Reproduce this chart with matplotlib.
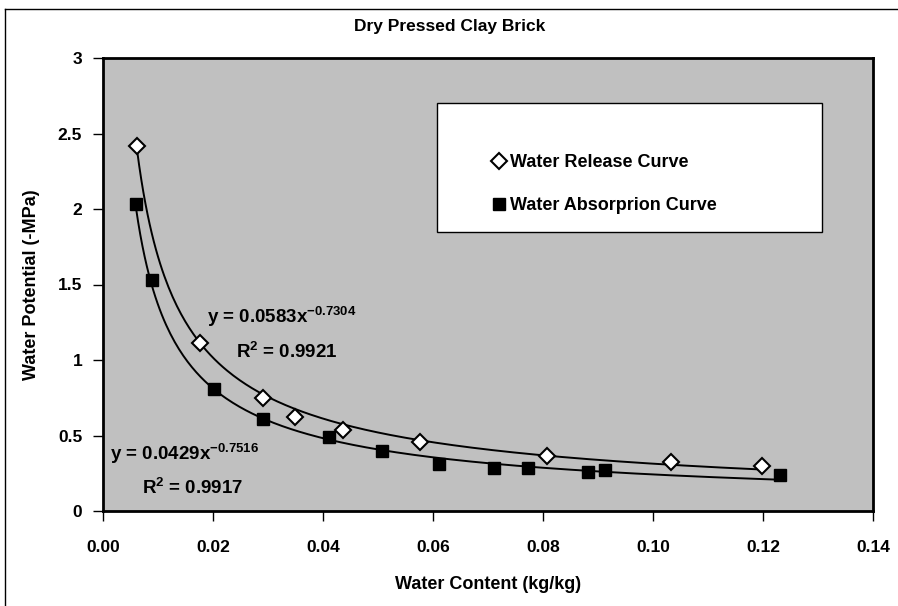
import numpy as np
import matplotlib
matplotlib.use("Agg")
import matplotlib.pyplot as plt
from matplotlib.lines import Line2D
from matplotlib.patches import Rectangle

plt.rcParams['font.family'] = ['Liberation Sans', 'DejaVu Sans']
plt.rcParams['font.weight'] = 'bold'
plt.rcParams['mathtext.fontset'] = 'custom'
plt.rcParams['mathtext.rm'] = 'Liberation Sans:bold'
plt.rcParams['mathtext.bf'] = 'Liberation Sans:bold'
plt.rcParams['mathtext.it'] = 'Liberation Sans:bold'
plt.rcParams['mathtext.default'] = 'bf'

# Data
release_x = [0.0062, 0.0176, 0.0290, 0.0349, 0.0437, 0.0576, 0.0807, 0.1032, 0.1199]
release_y = [2.42, 1.11, 0.746, 0.62, 0.536, 0.459, 0.364, 0.322, 0.300]
absorb_x = [0.0060, 0.0089, 0.0202, 0.0290, 0.0410, 0.0508, 0.0611, 0.0711, 0.0772, 0.0881, 0.0912, 0.1230]
absorb_y = [2.03, 1.53, 0.808, 0.609, 0.488, 0.400, 0.311, 0.287, 0.287, 0.260, 0.272, 0.236]

# Power-law trendline coefficients (from the chart labels)
release_a, release_b = 0.0583, -0.7304
absorb_a, absorb_b = 0.0429, -0.7516

x_ticks = [0.00, 0.02, 0.04, 0.06, 0.08, 0.10, 0.12, 0.14]
y_ticks = [0, 0.5, 1, 1.5, 2, 2.5, 3]
y_tick_labels = ['0', '0.5', '1', '1.5', '2', '2.5', '3']

W, H = 898, 606
fig = plt.figure(figsize=(W / 100, H / 100), dpi=100)
fig.patch.set_facecolor('white')

ax = fig.add_axes([103 / W, 1 - 511 / H, 770 / W, 453 / H])
ax.set_facecolor('#C0C0C0')

# trendlines
xr = np.linspace(min(release_x), max(release_x), 300)
ax.plot(xr, release_a * xr ** release_b, color='black', lw=1.4, zorder=2)
xa = np.linspace(min(absorb_x), max(absorb_x), 300)
ax.plot(xa, absorb_a * xa ** absorb_b, color='black', lw=1.4, zorder=2)

# markers
h1, = ax.plot(release_x, release_y, linestyle='none', marker='D', ms=8, mfc='white',
              mec='black', mew=1.5, zorder=3)
h2, = ax.plot(absorb_x, absorb_y, linestyle='none', marker='s', ms=8.5, mfc='black',
              mec='black', mew=1, zorder=3)

ax.set_xlim(0, 0.14)
ax.set_ylim(0, 3)
ax.set_xticks(x_ticks)
ax.set_xticklabels([f'{v:.2f}' for v in x_ticks])
ax.set_yticks(y_ticks)
ax.set_yticklabels(y_tick_labels)
ax.tick_params(axis='both', direction='out', length=7, width=1, labelsize=12.5, color='black')
ax.tick_params(axis='x', pad=14)
ax.tick_params(axis='y', pad=8)
for lab in ax.get_xticklabels() + ax.get_yticklabels():
    lab.set_fontweight('bold')
for s in ax.spines.values():
    s.set_linewidth(2)
    s.set_color('black')

ax.set_xlabel('Water Content (kg/kg)', fontsize=13, fontweight='bold', labelpad=15)
ax.set_ylabel('Water Potential (-MPa)', fontsize=13, fontweight='bold', labelpad=13)

fig.text(450 / W, 1 - 27 / H, 'Dry Pressed Clay Brick', ha='center', va='center',
         fontsize=12.5, fontweight='bold')

# trendline equations
eq_fs = 13.5
ax.text(0.0189, 1.285, r'y = 0.0583x$^{-0.7304}$', fontsize=eq_fs, fontweight='bold',
        va='center', ha='left')
ax.text(0.0242, 1.05, r'R$^{2}$ = 0.9921', fontsize=eq_fs, fontweight='bold',
        va='center', ha='left')
ax.text(0.0013, 0.38, r'y = 0.0429x$^{-0.7516}$', fontsize=eq_fs, fontweight='bold',
        va='center', ha='left')
ax.text(0.0071, 0.15, r'R$^{2}$ = 0.9917', fontsize=eq_fs, fontweight='bold',
        va='center', ha='left')

# legend box
fig.add_artist(Rectangle((437 / W, 1 - 232 / H), 385 / W, 129 / H, transform=fig.transFigure,
                         facecolor='white', edgecolor='black', lw=1, zorder=4))
leg = fig.legend([h1, h2], ['Water Release Curve', 'Water Absorprion Curve'],
                 loc='upper left', bbox_to_anchor=(494 / W, 1 - 154 / H),
                 frameon=False, fontsize=13, handlelength=0.6, handletextpad=0.3,
                 labelspacing=1.45, borderpad=0, borderaxespad=0, numpoints=1,
                 prop={'weight': 'bold', 'size': 13})
leg.set_zorder(5)

# outer chart-area border (left and top)
fig.add_artist(Line2D([5 / W, 5 / W], [0, 1 - 9 / H], transform=fig.transFigure, color='black', lw=1))
fig.add_artist(Line2D([5 / W, 1], [1 - 9 / H, 1 - 9 / H], transform=fig.transFigure, color='black', lw=1))

fig.savefig('out.png', dpi=100)
